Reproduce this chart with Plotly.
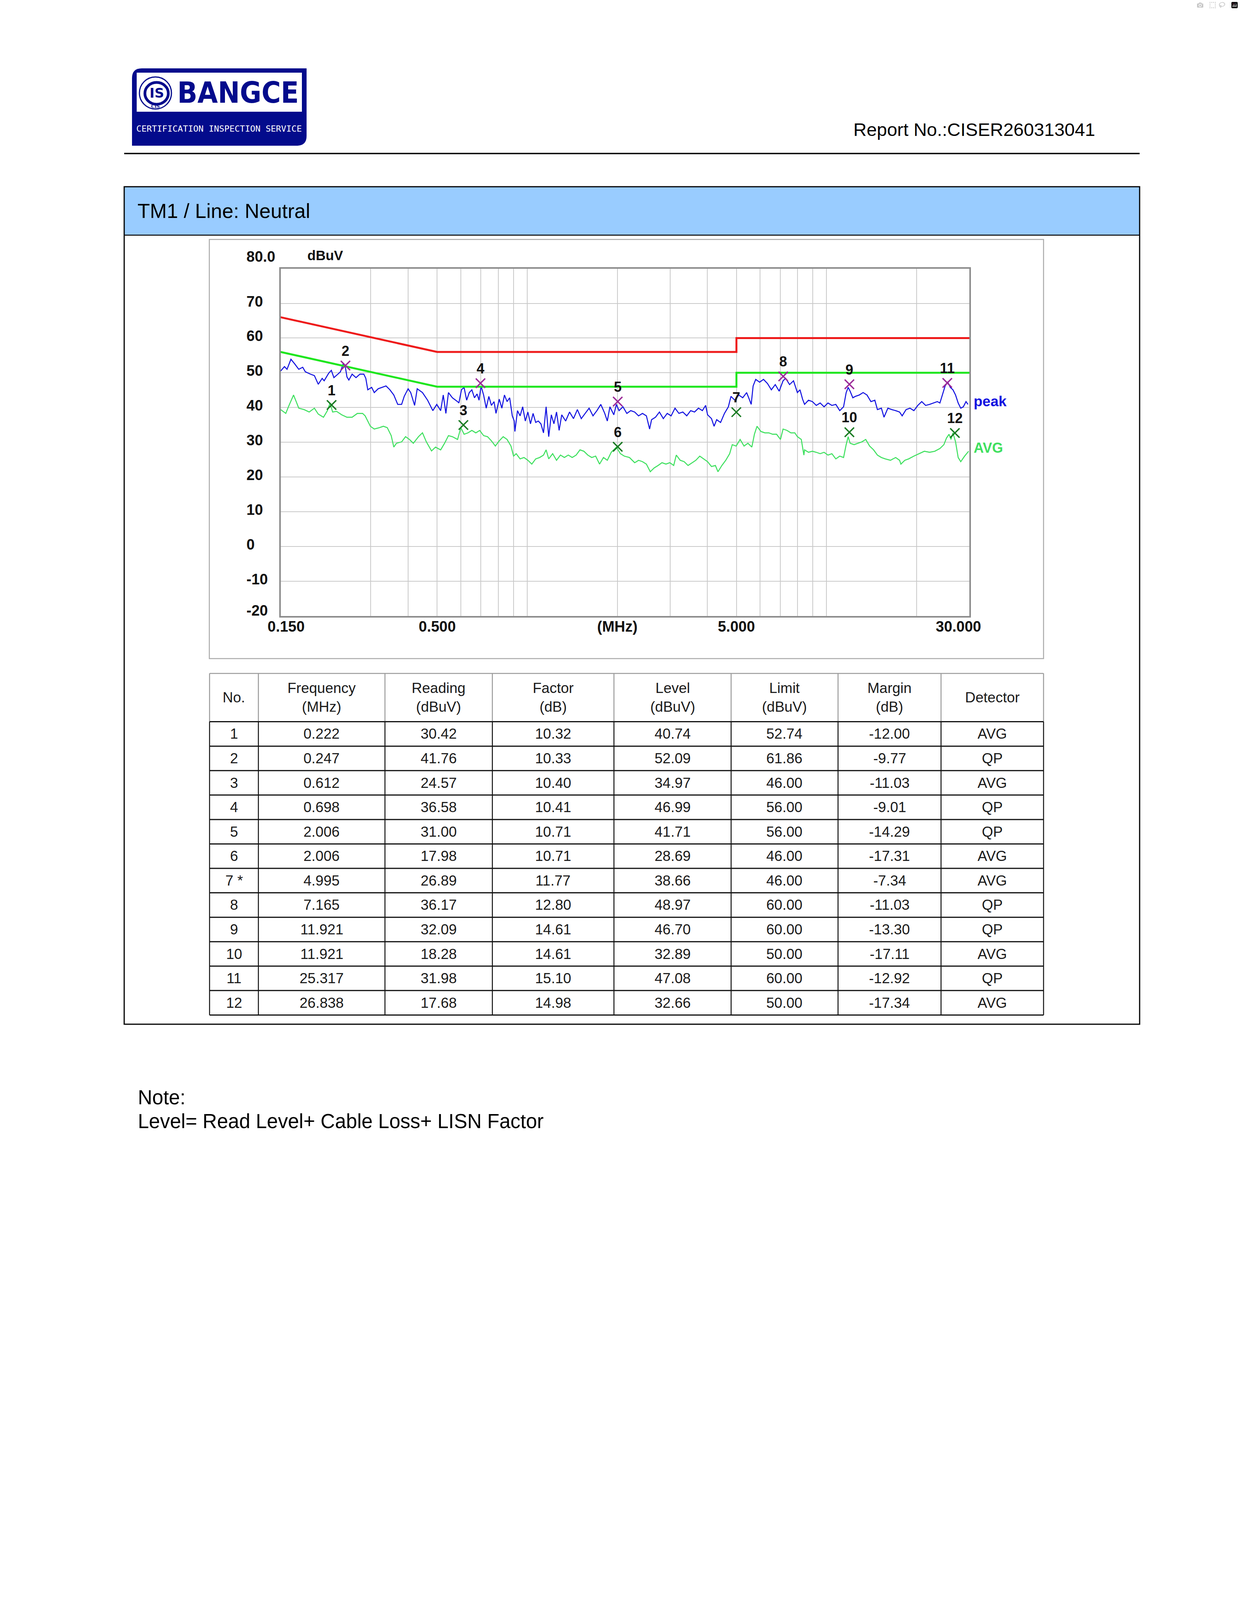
"""
EMI conducted emission report page (TM1 / Line: Neutral) rebuilt with Plotly.
"""

import math

import plotly.graph_objects as go

PAGE_W = 3175
PAGE_H = 4490

# ---- prescan traces (MHz / dBuV) ----
PEAK_FREQ = [
    0.150, 0.1545, 0.1576, 0.1624, 0.1674, 0.1725, 0.1778, 0.1814, 0.1888, 0.1945,
    0.2004, 0.2065, 0.2097, 0.2172, 0.2216, 0.2260, 0.2330, 0.2377, 0.2425, 0.2462,
    0.2499, 0.2536, 0.2600, 0.2679, 0.2761, 0.2845, 0.2889, 0.2933, 0.3022, 0.3083,
    0.3177, 0.3274, 0.3375, 0.3477, 0.3583, 0.3693, 0.3805, 0.3882, 0.4000, 0.4081,
    0.4205, 0.4290, 0.4467, 0.4648, 0.4838, 0.4987, 0.5138, 0.5242, 0.5349, 0.5456,
    0.5623, 0.5852, 0.5911, 0.6030, 0.6152, 0.6276, 0.6403, 0.6532, 0.6664, 0.6799,
    0.6904, 0.7008, 0.7150, 0.7295, 0.7443, 0.7593, 0.7747, 0.7865, 0.8064, 0.8227,
    0.8393, 0.8563, 0.8737, 0.8914, 0.9050, 0.9095, 0.9279, 0.9467, 0.9658, 0.9854,
    1.0051, 1.0254, 1.0462, 1.0673, 1.0889, 1.1110, 1.1335, 1.1564, 1.1798, 1.2037,
    1.2280, 1.2529, 1.2782, 1.3041, 1.3440, 1.3849, 1.4273, 1.4708, 1.5157, 1.5619,
    1.6096, 1.6587, 1.7094, 1.7615, 1.8155, 1.8518, 1.8891, 1.9467, 1.9861, 2.0263,
    2.0884, 2.1520, 2.218, 2.286, 2.355, 2.427, 2.501, 2.564, 2.603, 2.683,
    2.765, 2.849, 2.936, 3.025, 3.117, 3.212, 3.311, 3.412, 3.516, 3.623,
    3.733, 3.847, 3.945, 4.005, 4.127, 4.210, 4.295, 4.426, 4.560, 4.699,
    4.794, 4.940, 5.093, 5.248, 5.408, 5.517, 5.601, 5.685, 5.799, 5.976,
    6.158, 6.349, 6.541, 6.741, 6.945, 7.158, 7.303, 7.524, 7.756, 7.991,
    8.153, 8.317, 8.445, 8.703, 8.968, 9.242, 9.522, 9.813, 10.11, 10.42,
    10.74, 11.07, 11.40, 11.63, 11.81, 11.99, 12.24, 12.48, 12.86, 13.25,
    13.65, 14.07, 14.50, 14.79, 15.25, 15.56, 16.03, 16.52, 17.02, 17.54,
    17.89, 18.44, 19.00, 19.58, 20.18, 20.80, 21.43, 22.09, 22.77, 23.45,
    23.92, 24.40, 24.90, 25.41, 25.92, 26.44, 26.98, 27.53, 28.08, 28.64,
    29.24, 29.68,
]
PEAK_LEVEL = [
    50.5, 51.8, 51.0, 53.9, 52.5, 51.0, 51.6, 50.3, 49.6, 49.2,
    46.7, 48.4, 47.7, 49.9, 50.7, 48.6, 49.6, 50.3, 52.5, 52.2,
    48.8, 47.9, 49.6, 48.6, 49.6, 49.6, 48.4, 45.1, 45.8, 44.3,
    45.4, 45.8, 46.2, 45.1, 43.6, 40.9, 40.9, 43.2, 45.4, 44.3,
    40.6, 45.4, 44.3, 42.1, 39.1, 40.9, 39.1, 43.6, 38.3, 44.3,
    42.8, 41.7, 41.3, 45.1, 45.8, 42.1, 44.3, 45.1, 42.8, 43.9,
    42.1, 46.2, 43.6, 39.8, 43.2, 40.6, 41.7, 38.3, 42.4, 39.8,
    43.6, 41.7, 42.8, 37.6, 36.1, 33.1, 39.1, 37.6, 40.2, 36.1,
    38.7, 35.3, 38.3, 35.7, 36.1, 35.3, 32.7, 40.2, 31.6, 37.9,
    35.3, 38.7, 33.4, 37.9, 36.1, 38.7, 36.8, 39.4, 36.8, 38.3,
    39.8, 37.6, 39.1, 40.9, 38.3, 36.1, 40.2, 37.9, 40.9, 39.1,
    40.2, 38.3, 39.1, 38.7, 37.6, 38.3, 37.6, 33.8, 36.5, 37.2,
    38.7, 36.8, 38.3, 37.6, 39.8, 38.3, 38.7, 37.6, 39.1, 38.7,
    39.8, 39.1, 40.6, 37.9, 36.8, 34.6, 36.5, 35.7, 38.3, 40.2,
    43.2, 42.1, 43.6, 42.8, 44.3, 42.4, 40.9, 46.2, 48.1, 47.3,
    48.1, 46.9, 45.1, 46.6, 44.7, 47.7, 48.4, 46.6, 47.7, 44.3,
    45.1, 42.4, 40.9, 42.1, 41.7, 40.6, 41.3, 40.2, 41.3, 40.6,
    40.9, 39.1, 40.2, 44.3, 45.8, 44.7, 42.8, 43.2, 43.6, 44.3,
    43.6, 41.7, 42.1, 39.4, 39.8, 37.2, 39.8, 39.4, 39.1, 38.7,
    37.6, 39.4, 39.8, 39.1, 40.6, 41.7, 40.6, 40.9, 41.3, 41.7,
    41.3, 43.6, 46.2, 47.3, 45.8, 45.1, 43.6, 41.3, 39.8, 40.2,
    41.7, 40.9,
]

AVG_FREQ = [
    0.150, 0.1561, 0.1600, 0.1657, 0.1691, 0.1725, 0.1796, 0.1869, 0.1945, 0.2004,
    0.2086, 0.2150, 0.2194, 0.2238, 0.2306, 0.2400, 0.2499, 0.2600, 0.2707, 0.2818,
    0.2874, 0.2992, 0.3083, 0.3209, 0.3307, 0.3407, 0.3512, 0.3583, 0.3656, 0.3805,
    0.3922, 0.4041, 0.4164, 0.4333, 0.4467, 0.4603, 0.4790, 0.4938, 0.5138, 0.5295,
    0.5456, 0.5623, 0.5852, 0.6001, 0.6152, 0.6340, 0.6532, 0.6734, 0.6940, 0.7150,
    0.7369, 0.7593, 0.7825, 0.8064, 0.8311, 0.8563, 0.8825, 0.9003, 0.9186, 0.9467,
    0.9754, 1.0051, 1.0361, 1.0673, 1.1002, 1.1335, 1.1564, 1.1798, 1.2162, 1.2529,
    1.2915, 1.3308, 1.3715, 1.4132, 1.4567, 1.5007, 1.5467, 1.5937, 1.6428, 1.6927,
    1.7445, 1.7977, 1.8518, 1.9085, 1.9861, 2.0477, 2.1101, 2.1961, 2.286, 2.355,
    2.427, 2.501, 2.577, 2.656, 2.737, 2.820, 2.907, 2.995, 3.086, 3.148,
    3.244, 3.344, 3.446, 3.551, 3.659, 3.771, 3.886, 4.005, 4.127, 4.253,
    4.338, 4.470, 4.606, 4.746, 4.842, 4.990, 5.144, 5.301, 5.462, 5.629,
    5.742, 5.858, 6.036, 6.223, 6.412, 6.607, 6.808, 7.016, 7.158, 7.376,
    7.603, 7.834, 7.991, 8.235, 8.401, 8.445, 8.703, 8.968, 9.242, 9.522,
    9.813, 10.11, 10.42, 10.74, 11.07, 11.40, 11.63, 11.81, 11.99, 12.36,
    12.73, 13.12, 13.52, 13.93, 14.36, 14.79, 15.25, 15.71, 16.35, 17.02,
    17.54, 17.72, 18.26, 18.81, 19.58, 20.38, 21.22, 22.09, 22.99, 23.92,
    24.66, 25.16, 25.66, 26.05, 26.44, 26.98, 27.53, 28.08, 28.93, 29.83,
]
AVG_LEVEL = [
    39.4, 38.3, 40.6, 43.6, 41.7, 39.8, 39.4, 38.7, 39.8, 38.1,
    37.2, 39.1, 41.3, 38.7, 38.9, 37.9, 37.2, 37.2, 38.3, 38.3,
    37.6, 34.6, 33.8, 34.2, 34.6, 34.2, 31.9, 28.6, 29.7, 30.1,
    31.6, 30.8, 29.7, 31.6, 32.7, 30.1, 27.5, 28.6, 27.8, 29.7,
    31.9, 31.6, 30.8, 34.2, 32.3, 32.7, 33.4, 32.7, 33.4, 31.9,
    31.6, 30.4, 28.9, 30.4, 31.6, 30.8, 28.9, 26.0, 26.7, 25.2,
    25.6, 24.8, 23.7, 25.2, 25.6, 26.3, 27.8, 25.2, 26.7, 24.8,
    26.3, 25.6, 26.3, 25.6, 26.3, 27.8, 27.4, 26.3, 25.6, 26.0,
    23.7, 25.6, 24.8, 27.1, 28.6, 26.7, 26.0, 25.6, 24.1, 24.8,
    24.4, 23.7, 21.5, 22.6, 23.3, 24.1, 23.7, 24.1, 23.3, 26.3,
    24.8, 24.4, 23.3, 24.1, 24.8, 26.0, 25.2, 24.4, 23.0, 23.3,
    21.5, 23.3, 24.8, 26.7, 29.3, 28.9, 30.8, 28.9, 29.7, 28.6,
    32.3, 34.6, 33.1, 32.7, 32.7, 32.3, 32.3, 30.8, 33.8, 33.4,
    32.7, 32.7, 31.6, 30.8, 26.3, 27.8, 27.1, 27.4, 27.1, 26.7,
    27.1, 26.3, 26.7, 25.2, 26.0, 25.6, 29.3, 31.6, 29.7, 29.3,
    29.7, 30.1, 30.8, 28.9, 27.8, 26.3, 25.6, 25.2, 24.8, 25.6,
    24.8, 23.7, 24.8, 25.2, 26.0, 26.7, 27.4, 27.1, 27.4, 28.2,
    29.3, 31.2, 32.3, 30.8, 32.7, 30.1, 25.6, 24.4, 26.0, 27.4,
]

# ---- limit lines ----
QP_LIMIT_FREQ = [0.15, 0.5, 5.0, 5.0, 30.0]
QP_LIMIT_LEVEL = [66, 56, 56, 60, 60]
AV_LIMIT_FREQ = [0.15, 0.5, 5.0, 5.0, 30.0]
AV_LIMIT_LEVEL = [56, 46, 46, 50, 50]

# ---- axes ----
Y_TICKS = [80, 70, 60, 50, 40, 30, 20, 10, 0, -10, -20]
X_GRID = [0.3, 0.4, 0.5, 0.6, 0.7, 0.8, 0.9, 1, 2, 3, 4, 5, 6, 7, 8, 9, 10, 20]
X_LABEL_VALUES = [0.15, 0.5, 2.0, 5.0, 30.0]
X_LABEL_TEXT = ["0.150", "0.500", "(MHz)", "5.000", "30.000"]

# ---- final measurement table ----
MARK_NO = ["1", "2", "3", "4", "5", "6", "7 *", "8", "9", "10", "11", "12"]
MARK_FREQ = [0.222, 0.247, 0.612, 0.698, 2.006, 2.006, 4.995, 7.165, 11.921, 11.921, 25.317, 26.838]
READING = [30.42, 41.76, 24.57, 36.58, 31.00, 17.98, 26.89, 36.17, 32.09, 18.28, 31.98, 17.68]
FACTOR = [10.32, 10.33, 10.40, 10.41, 10.71, 10.71, 11.77, 12.80, 14.61, 14.61, 15.10, 14.98]
LEVEL = [40.74, 52.09, 34.97, 46.99, 41.71, 28.69, 38.66, 48.97, 46.70, 32.89, 47.08, 32.66]
LIMIT = [52.74, 61.86, 46.00, 56.00, 56.00, 46.00, 46.00, 60.00, 60.00, 50.00, 60.00, 50.00]
MARGIN = [-12.00, -9.77, -11.03, -9.01, -14.29, -17.31, -7.34, -11.03, -13.30, -17.11, -12.92, -17.34]
DETECTOR = ["AVG", "QP", "AVG", "QP", "QP", "AVG", "AVG", "QP", "QP", "AVG", "QP", "AVG"]
HEADERS = [
    "No.", "Frequency<br>(MHz)", "Reading<br>(dBuV)", "Factor<br>(dB)",
    "Level<br>(dBuV)", "Limit<br>(dBuV)", "Margin<br>(dB)", "Detector",
]

# colours
C_PEAK = "#1212e0"
C_AVG = "#3fe05f"
C_QP_LIMIT = "#ee1a1a"
C_AV_LIMIT = "#1ee61e"
C_QP_MARK = "#9b2a98"
C_AV_MARK = "#197a22"
C_LOGO = "#030b8c"
C_BAND = "#99ccff"

CHART_FONT = "Liberation Sans, Arial, sans-serif"
PAGE_FONT = "Liberation Sans, Arial, sans-serif"

# page layout in pixels
PLOT_L, PLOT_R, PLOT_T, PLOT_B = 718.5, 2482.0, 687.7, 1576.5
COL_EDGES = [536.6, 661.6, 985.7, 1260.7, 1572.0, 1872.0, 2145.8, 2409.5, 2672.0]
TABLE_TOP = 1724.0
HEADER_BOTTOM = 1847.6
ROW_H = 62.57

shapes = []
annotations = []


def page_shape(kind, x0, y0, x1, y1, color="black", width=2, fill=None, layer="above"):
    shapes.append(
        dict(
            type=kind, xref="x2", yref="y2", x0=x0, y0=y0, x1=x1, y1=y1,
            line={"color": color, "width": width},
            fillcolor=fill, layer=layer,
        )
    )


def page_text(x, y, text, size, color="black", anchor="left", family=PAGE_FONT):
    annotations.append(
        dict(
            xref="x2", yref="y2", x=x, y=y, text=text, showarrow=False,
            xanchor=anchor, yanchor="middle",
            font={"family": family, "size": size, "color": color},
        )
    )


fig = go.Figure()

# empty trace so the page-pixel axes exist
fig.add_trace(go.Scatter(x=[], y=[], xaxis="x2", yaxis="y2", showlegend=False))

fig.add_trace(
    go.Scatter(x=AVG_FREQ, y=AVG_LEVEL, mode="lines", line={"color": C_AVG, "width": 2.6},
               showlegend=False, hoverinfo="skip")
)
fig.add_trace(
    go.Scatter(x=PEAK_FREQ, y=PEAK_LEVEL, mode="lines", line={"color": C_PEAK, "width": 2.6},
               showlegend=False, hoverinfo="skip")
)
fig.add_trace(
    go.Scatter(x=QP_LIMIT_FREQ, y=QP_LIMIT_LEVEL, mode="lines",
               line={"color": C_QP_LIMIT, "width": 5}, showlegend=False)
)
fig.add_trace(
    go.Scatter(x=AV_LIMIT_FREQ, y=AV_LIMIT_LEVEL, mode="lines",
               line={"color": C_AV_LIMIT, "width": 5}, showlegend=False)
)

# measurement markers, split by detector
for det, colour in (("QP", C_QP_MARK), ("AVG", C_AV_MARK)):
    idx = [i for i, d in enumerate(DETECTOR) if d == det]
    fig.add_trace(
        go.Scatter(
            x=[MARK_FREQ[i] for i in idx],
            y=[LEVEL[i] for i in idx],
            mode="markers+text",
            text=["<b>%s</b>" % MARK_NO[i].split()[0] for i in idx],
            textposition="top center",
            textfont={"family": CHART_FONT, "size": 36, "color": "#111111"},
            marker={"symbol": "x-thin", "size": 24, "line": {"color": colour, "width": 3.5}},
            showlegend=False,
            cliponaxis=False,
        )
    )

# ---- chart tick labels ----
for v in Y_TICKS:
    shift = 31 if v == 80 else (14 if v == -20 else 5)
    annotations.append(
        dict(
            xref="x2", yref="y", x=629, y=v, yshift=shift,
            text="<b>%s</b>" % ("80.0" if v == 80 else str(v)), showarrow=False,
            xanchor="left", yanchor="middle",
            font={"family": CHART_FONT, "size": 38, "color": "#111111"},
        )
    )
for v, t in zip(X_LABEL_VALUES, X_LABEL_TEXT):
    shift = 14 if v == X_LABEL_VALUES[0] else (-28 if v == X_LABEL_VALUES[-1] else 0)
    annotations.append(
        dict(
            xref="x", yref="y2", x=math.log10(v), y=1604, xshift=shift,
            text="<b>%s</b>" % t, showarrow=False, xanchor="center", yanchor="middle",
            font={"family": CHART_FONT, "size": 38, "color": "#111111"},
        )
    )
page_text(785, 653, "<b>dBuV</b>", 35, "#111111", family=CHART_FONT)
page_text(2491, 1027, "<b>peak</b>", 37, C_PEAK, family=CHART_FONT)
page_text(2491, 1146, "<b>AVG</b>", 36, C_AVG, family=CHART_FONT)

# ---- header: logo, report number, rule ----
shapes.append(
    dict(
        type="path", xref="x2", yref="y2",
        path="M 338 200 Q 338 175 363 175 L 785 175 L 785 348 Q 785 373 760 373 L 338 373 Z",
        fillcolor=C_LOGO, line={"width": 0},
    )
)
page_shape("rect", 350, 186, 773, 286, color="white", width=0, fill="white")
page_shape("circle", 357, 197, 439, 279, color=C_LOGO, width=3)
page_shape("circle", 371, 211, 431, 267, color=C_LOGO, width=7)
page_text(401, 238, "<b>IS</b>", 34, C_LOGO, anchor="center", family="DejaVu Sans")
page_text(398, 272, "<b>CIS</b>", 11, C_LOGO, anchor="center", family="DejaVu Serif")
page_text(609, 237, "<b>BANGCE</b>", 75, C_LOGO, anchor="center",
          family="Liberation Sans Narrow, DejaVu Sans Condensed, sans-serif")
page_text(561, 329, "CERTIFICATION INSPECTION SERVICE", 22, "white", anchor="center",
          family="DejaVu Sans Mono")

page_text(2806, 331, "Report No.:CISER260313041", 47, anchor="right")
page_shape("line", 318, 393, 2918, 393, width=3.5)

# ---- test block frame ----
page_shape("rect", 319, 479, 2917, 602, color=C_BAND, width=0, fill=C_BAND, layer="below")
page_shape("rect", 318, 478, 2918, 2622, width=3)
page_shape("line", 318, 602, 2918, 602, width=2.5)
page_text(350, 540, "TM1 / Line: Neutral", 52)
page_shape("rect", 536, 613, 2672, 1686, color="#a9a9a9", width=2.5)

# ---- measurement table ----
row_lines = [HEADER_BOTTOM + i * ROW_H for i in range(len(MARK_NO) + 1)]
page_shape("line", COL_EDGES[0], TABLE_TOP, COL_EDGES[-1], TABLE_TOP, color="#9a9a9a", width=2.5)
for x in COL_EDGES:
    page_shape("line", x, TABLE_TOP, x, HEADER_BOTTOM, color="#9a9a9a", width=2.5)
    page_shape("line", x, HEADER_BOTTOM, x, row_lines[-1], color="#111111", width=2.5)
for y in row_lines:
    page_shape("line", COL_EDGES[0], y, COL_EDGES[-1], y, color="#111111", width=3)

centres = [(a + b) / 2 for a, b in zip(COL_EDGES[:-1], COL_EDGES[1:])]
for cx, h in zip(centres, HEADERS):
    page_text(cx, (TABLE_TOP + HEADER_BOTTOM) / 2, h, 37, "#1a1a1a", anchor="center")

columns = [
    MARK_NO,
    ["%.3f" % v for v in MARK_FREQ],
    ["%.2f" % v for v in READING],
    ["%.2f" % v for v in FACTOR],
    ["%.2f" % v for v in LEVEL],
    ["%.2f" % v for v in LIMIT],
    ["%.2f" % v for v in MARGIN],
    DETECTOR,
]
for cx, col in zip(centres, columns):
    for i, val in enumerate(col):
        page_text(cx, HEADER_BOTTOM + (i + 0.5) * ROW_H, val, 37, "#1a1a1a", anchor="center")

# ---- note and footer ----
page_text(351, 2809, "Note:", 51)
page_text(351, 2870, "Level= Read Level+ Cable Loss+ LISN Factor", 51)
page_shape("line", 318, 4316, 2918, 4316, width=3.5)
page_text(1615, 4356, "Page 10 of 21", 47, anchor="center")

axis_common = {"showticklabels": False, "ticks": "", "zeroline": False, "fixedrange": True}

fig.update_layout(
    width=PAGE_W,
    height=PAGE_H,
    margin={"l": 0, "r": 0, "t": 0, "b": 0},
    paper_bgcolor="white",
    plot_bgcolor="rgba(0,0,0,0)",
    showlegend=False,
    xaxis={
        **axis_common,
        "type": "log",
        "range": [math.log10(0.15), math.log10(30)],
        "domain": [PLOT_L / PAGE_W, PLOT_R / PAGE_W],
        "tickvals": X_GRID,
        "showgrid": True,
        "gridcolor": "#c9c9c9",
        "gridwidth": 2,
        "showline": True,
        "mirror": True,
        "linecolor": "#8c8c8c",
        "linewidth": 4,
        "anchor": "y",
    },
    yaxis={
        **axis_common,
        "range": [-20, 80],
        "domain": [1 - PLOT_B / PAGE_H, 1 - PLOT_T / PAGE_H],
        "tickvals": Y_TICKS[1:-1],
        "showgrid": True,
        "gridcolor": "#c9c9c9",
        "gridwidth": 2,
        "showline": True,
        "mirror": True,
        "linecolor": "#8c8c8c",
        "linewidth": 4,
        "anchor": "x",
    },
    xaxis2={**axis_common, "range": [0, PAGE_W], "domain": [0, 1], "visible": False,
            "showgrid": False, "anchor": "y2"},
    yaxis2={**axis_common, "range": [PAGE_H, 0], "domain": [0, 1], "visible": False,
            "showgrid": False, "anchor": "x2"},
    shapes=shapes,
    annotations=annotations,
)

fig.write_html("out.html", post_script="document.body.style.margin='0';")
